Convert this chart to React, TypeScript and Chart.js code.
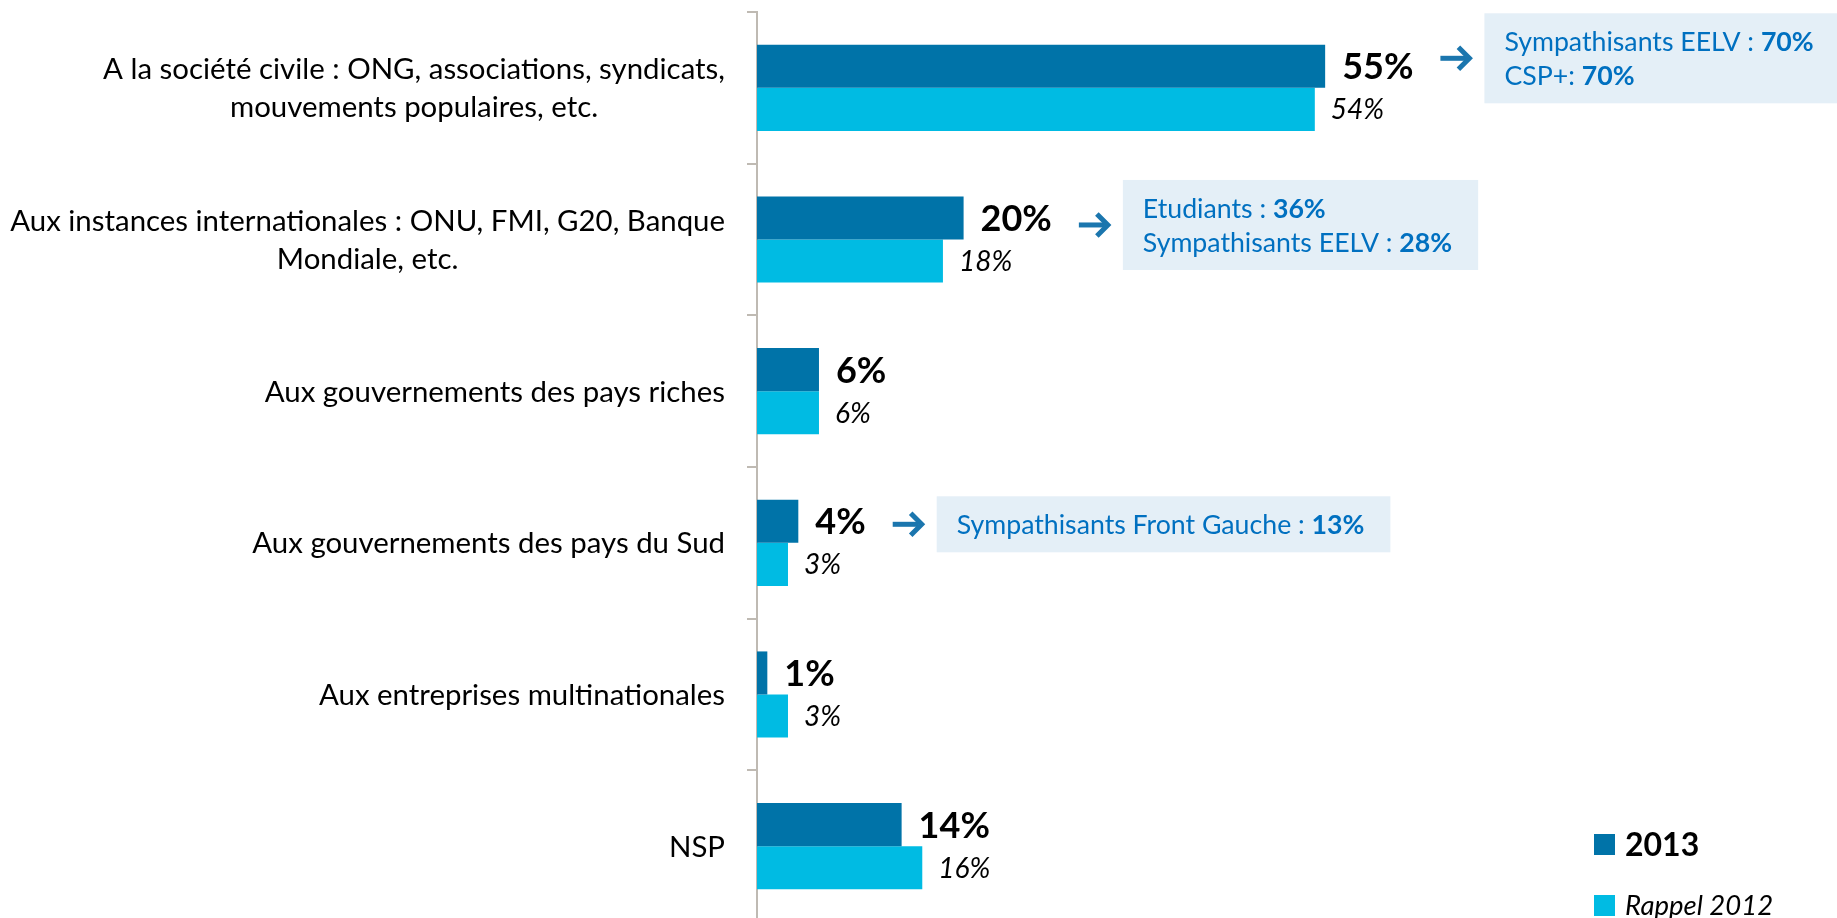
import { useEffect, useRef } from "react";
import { Chart, registerables } from "chart.js";

Chart.register(...registerables);

const categories: string[][] = [
  ["A la société civile : ONG, associations, syndicats,", "mouvements populaires, etc."],
  ["Aux instances internationales : ONU, FMI, G20, Banque", "Mondiale, etc."],
  ["Aux gouvernements des pays riches"],
  ["Aux gouvernements des pays du Sud"],
  ["Aux entreprises multinationales"],
  ["NSP"],
];
const values2013 = [55, 20, 6, 4, 1, 14];
const values2012 = [54, 18, 6, 3, 3, 16];
const seriesNames = ["2013", "Rappel 2012"];

const calloutCategory = [0, 1, 3];
const calloutText: string[][][] = [
  [["Sympathisants EELV : ", "70%"], ["CSP+: ", "70%"]],
  [["Etudiants : ", "36%"], ["Sympathisants EELV : ", "28%"]],
  [["Sympathisants Front Gauche : ", "13%"]],
];

// styling
const COLORS = {
  dark: "#0073A8",
  light: "#00BBE3",
  axis: "#BFBAB3",
  box: "#E4EFF7",
  boxText: "#0070C0",
  arrow: "#1B76AE",
};
const FONT = "Lato, 'Open Sans', sans-serif";
const calloutDy = [-8, 7, 3];
const W = 1837;
const H = 922;
const LABEL_RIGHT = 725;
const CAT_FONT = 29.4;
const CAT_LINE = 38;
const DARK_FONT = 36;
const LIGHT_FONT = 28;
const BOX_FONT = 26.7;
const BOX_LINE = 34;

const capBase = (center: number, size: number) => center + size * 0.36;

const overlay = {
  id: "overlay",
  afterDraw(chart: any) {
    const ctx: CanvasRenderingContext2D = chart.ctx;
    const ys = chart.scales.y;
    ctx.save();

    // category labels: block right-aligned, lines centred
    ctx.fillStyle = "#000";
    ctx.font = `${CAT_FONT}px ${FONT}`;
    ctx.textAlign = "center";
    ctx.textBaseline = "alphabetic";
    (chart.data.labels as any[]).forEach((lab, i) => {
      const lines: string[] = Array.isArray(lab) ? lab : [lab];
      const cy = ys.getPixelForValue(i);
      const widest = Math.max(...lines.map((l) => ctx.measureText(l).width));
      const cx = LABEL_RIGHT - widest / 2;
      lines.forEach((l, j) => {
        const ly = cy + (j - (lines.length - 1) / 2) * CAT_LINE;
        ctx.fillText(l, cx, capBase(ly, CAT_FONT));
      });
    });

    // value labels
    const m0 = chart.getDatasetMeta(0);
    const m1 = chart.getDatasetMeta(1);
    const darkEnds: number[] = [];
    ctx.textAlign = "left";
    m0.data.forEach((el: any, i: number) => {
      ctx.font = `bold ${DARK_FONT}px ${FONT}`;
      ctx.fillStyle = "#000";
      const t = chart.data.datasets[0].data[i] + "%";
      const tx = el.x + 17;
      ctx.fillText(t, tx, capBase(el.y, DARK_FONT));
      darkEnds[i] = tx + ctx.measureText(t).width;
    });
    m1.data.forEach((el: any, i: number) => {
      ctx.font = `italic ${LIGHT_FONT}px ${FONT}`;
      ctx.fillStyle = "#000";
      const t = chart.data.datasets[1].data[i] + "%";
      ctx.fillText(t, el.x + 16, capBase(el.y, LIGHT_FONT));
    });

    // callouts
    calloutCategory.forEach((ci, k) => {
      const el = m0.data[ci];
      const lines = calloutText[k];
      const cy = el.y + calloutDy[k];
      const ax = darkEnds[ci] + 27;
      const aw = 29;
      // arrow
      ctx.strokeStyle = COLORS.arrow;
      ctx.lineWidth = 5;
      ctx.lineCap = "butt";
      ctx.lineJoin = "miter";
      ctx.beginPath();
      ctx.moveTo(ax, cy);
      ctx.lineTo(ax + aw - 3, cy);
      ctx.stroke();
      ctx.beginPath();
      ctx.moveTo(ax + aw - 11, cy - 11);
      ctx.lineTo(ax + aw, cy);
      ctx.lineTo(ax + aw - 11, cy + 11);
      ctx.stroke();

      const bx = ax + aw + 15;
      const widths = lines.map(([a, b]) => {
        ctx.font = `${BOX_FONT}px ${FONT}`;
        const wa = ctx.measureText(a).width;
        ctx.font = `bold ${BOX_FONT}px ${FONT}`;
        return wa + ctx.measureText(b).width;
      });
      const boxW = Math.max(...widths) + 20 + 26;
      const boxH = lines.length * BOX_LINE + 22;
      ctx.fillStyle = COLORS.box;
      ctx.fillRect(bx, cy - boxH / 2, boxW, boxH);
      ctx.fillStyle = COLORS.boxText;
      lines.forEach(([a, b], j) => {
        const ly = capBase(cy + (j - (lines.length - 1) / 2) * BOX_LINE, BOX_FONT);
        ctx.font = `${BOX_FONT}px ${FONT}`;
        ctx.fillText(a, bx + 20, ly);
        const wa = ctx.measureText(a).width;
        ctx.font = `bold ${BOX_FONT}px ${FONT}`;
        ctx.fillText(b, bx + 20 + wa, ly);
      });
    });

    // legend
    const legendItems = [
      { color: COLORS.dark, font: `bold 32px ${FONT}`, size: 32, cy: 844.5 },
      { color: COLORS.light, font: `italic 27.5px ${FONT}`, size: 27.5, cy: 905.5 },
    ];
    legendItems.forEach((it, i) => {
      ctx.fillStyle = it.color;
      ctx.fillRect(1594, it.cy - 10.5, 21, 21);
      ctx.fillStyle = "#000";
      ctx.font = it.font;
      ctx.fillText(chart.data.datasets[i].label, 1625, capBase(it.cy, it.size));
    });

    ctx.restore();
  },
};

export default function App() {
  const ref = useRef<HTMLCanvasElement>(null);
  useEffect(() => {
    if (!ref.current) return;
    const chart = new Chart(ref.current, {
      type: "bar",
      data: {
        labels: categories,
        datasets: [
          {
            label: seriesNames[0],
            data: values2013,
            backgroundColor: COLORS.dark,
            categoryPercentage: 0.568,
            barPercentage: 1,
          },
          {
            label: seriesNames[1],
            data: values2012,
            backgroundColor: COLORS.light,
            categoryPercentage: 0.568,
            barPercentage: 1,
          },
        ],
      },
      options: {
        indexAxis: "y",
        responsive: false,
        animation: false,
        devicePixelRatio: 1,
        layout: { padding: { left: 0, top: 12, right: 47, bottom: 0 } },
        plugins: { legend: { display: false }, tooltip: { enabled: false } },
        scales: {
          x: { type: "linear", min: 0, max: 100, display: false },
          y: {
            type: "category",
            offset: true,
            grid: {
              display: true,
              drawOnChartArea: false,
              drawTicks: true,
              tickLength: 10,
              color: COLORS.axis,
              lineWidth: 2,
              offset: true,
            },
            border: { display: true, color: COLORS.axis, width: 2 },
            ticks: { display: false },
            afterFit: (scale: any) => {
              scale.width = 757;
            },
          },
        },
      },
      plugins: [overlay],
    });
    return () => chart.destroy();
  }, []);
  return (
    <div
      style={{
        position: "absolute",
        left: 0,
        top: 0,
        width: W,
        height: 918,
        overflow: "hidden",
        background: "#fff",
      }}
    >
      <canvas ref={ref} width={W} height={H} style={{ width: W, height: H, display: "block" }} />
    </div>
  );
}
